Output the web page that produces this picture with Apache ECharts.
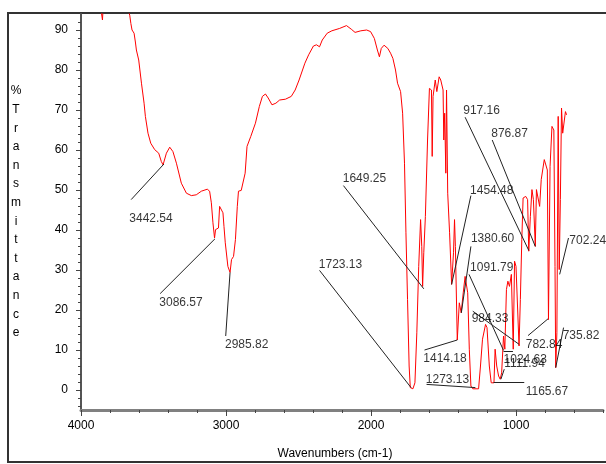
<!DOCTYPE html>
<html>
<head>
<meta charset="utf-8">
<script src="https://cdn.jsdelivr.net/npm/echarts@6/dist/echarts.min.js"></script>
<style>
html,body{margin:0;padding:0;background:#fff;}
#chart{width:606px;height:464px;}
</style>
</head>
<body>
<div id="chart"></div>
<script>
// spectrum [wavenumber, %T]
var spectrum = [
	[3870,97],[3852,92.5],[3845,97],[3700,98],[3664,93.7],[3656,91.6],[3648,90],[3634,89.2],[3625,87],[3618,85],
	[3602,82.5],[3583,76.7],[3565,71.7],[3556,68.4],[3538,64.2],[3519,61.7],[3492,60.1],[3464,59.2],[3446,57.1],[3434,56.3],
	[3411,59.2],[3388,60.7],[3366,59.6],[3342,56.7],[3308,51.7],[3273,49.2],[3239,48.6],[3205,48.8],[3170,49.7],[3129,50.2],
	[3113,49.7],[3101,46.8],[3090,41.8],[3079,38],[3072,40.1],[3060,40.5],[3052,40.5],[3044,45.9],[3032,46.3],[3021,44.3],
	[3014,40.9],[3005,36.8],[2987,30.9],[2972,29.4],[2962,32.6],[2948,33.4],[2935,37.6],[2922,45.9],[2914,49.7],[2895,49.9],
	[2882,49.4],[2868,54.2],[2855,60.9],[2829,63.4],[2797,66.7],[2770,70.9],[2749,73.4],[2728,74],[2709,73],[2683,71.3],
	[2656,71.7],[2630,72.5],[2590,72.7],[2550,73.4],[2523,75],[2496,77.5],[2456,81.7],[2430,83.8],[2397,86],[2376,86.3],
	[2355,85.8],[2336,87.5],[2302,89.2],[2270,89.8],[2216,90.4],[2169,91.1],[2136,90.2],[2110,89.4],[2070,89.8],[2030,90],
	[2003,89.6],[1977,87.9],[1956,85],[1942,83.3],[1929,85.4],[1910,86.2],[1884,85.4],[1865,84.2],[1849,82.9],[1831,80],
	[1817,76.7],[1796,74.6],[1782,69.2],[1769,56.7],[1759,39.3],[1748,22.6],[1737,6],[1729,0.6],[1711,0.3],[1697,1.8],
	[1684,14.3],[1671,30.9],[1658,42.6],[1650,35.9],[1644,25.9],[1636,34.3],[1625,43.4],[1610,62.5],[1597,75.4],[1583,75],
	[1578,58.4],[1572,73.4],[1557,77.5],[1546,74.6],[1530,78.3],[1519,77.5],[1503,75],[1498,62.5],[1492,69.2],[1484,54.2],
	[1479,75],[1471,49.2],[1458,39.3],[1444,26.4],[1431,34.3],[1424,42.6],[1418,35.9],[1405,12.5],[1391,21.8],[1378,19.3],
	[1364,24.3],[1351,28.4],[1338,28.9],[1333,24.3],[1322,10.2],[1311,1.0],[1298,0.3],[1258,0.3],[1245,6],[1231,12.7],
	[1210,16.4],[1200,15.6],[1184,6],[1171,1.8],[1152,1.8],[1144,10.2],[1133,6],[1120,3.5],[1109,2.7],[1099,4.3],
	[1086,13.5],[1077,10.2],[1066,25.1],[1056,27.2],[1045,25.9],[1032,28.9],[1019,10.2],[1010,32.2],[1000,30.9],[979,11],
	[970,22.6],[960,37.6],[951,48],[933,48.4],[920,47.6],[912,34.7],[901,43.4],[890,50.1],[880,47.6],[867,35.9],
	[859,50.1],[848,50.5],[837,45.9],[826,52.6],[816,55],[805,57.6],[792,58],[784,55],[776,17.6],[765,55.9],
	[752,65.9],[739,65],[731,30.9],[726,5.6],[718,14.3],[709,68.4],[702,30.1],[694,47.6],[686,70.5],[678,64.2],
	[667,64.2],[659,69.6],[651,68.8]
];
// peak labels
var peakNames = ['3442.54','3086.57','2985.82','1723.13','1649.25','1454.48','1380.60','1414.18','1273.13','1165.67',
	'1091.79','984.33','1024.63','1111.94','782.84','735.82','702.24','917.16','876.87'];
var labelPos = [[3667,42.8],[3460,21.9],[3007,11.3],[2360,31.4],[2195,52.8],[1317,49.9],[1311,37.8],[1639,7.8],[1622,2.7],[933,-0.3],
	[1317,30.7],[1306,17.9],[1086,7.6],[1081,6.5],[933,11.3],[678,13.7],[632,37.4],[1364,69.9],[1171,64]];
// leader line start / end
var leaderFrom = [[3428,56.5],[3076,37.8],[2972,29.4],[1724,0.6],[1636,25.3],[1444,26.4],[1377,19.3],[1405,12.5],[1280,0.6],[1155,1.85],
	[1324,28.9],[1298,19.7],[1086,9.7],[1104,2.7],[917,13.6],[672,15.6],[638,38],[1351,68.2],[1164,62.5]];
var leaderTo = [[3654,47.6],[3454,24.1],[3002,13.5],[2355,29.9],[2190,51.1],[1311,48.6],[1311,35.9],[1631,10.0],[1617,1.4],[943,1.85],
	[1086,9.9],[978,11.4],[1021,9.7],[1081,5.2],[779,17.8],[726,5.6],[699,28.9],[912,34.9],[867,35.9]];

var yLabelVals = [0,10,20,30,40,50,60,70,80,90];
var yMinorVals = [];
for(var v=-4;v<=92;v+=2) yMinorVals.push(v);
var xLabelVals = [4000,3000,2000,1000];

var font = 'Liberation Sans, Arial, sans-serif';
var leaders = [], labels = [];
for(var i=0;i<peakNames.length;i++){
	leaders.push({coords:[leaderFrom[i],leaderTo[i]]});
	labels.push({name:peakNames[i],value:labelPos[i]});
}

var myChart = echarts.init(document.getElementById('chart'));
var option = {
	backgroundColor:'#fff',
	animation:false,
	grid:{left:81,right:2,top:14,bottom:54},
	xAxis:[{
		type:'value',min:400,max:4000,inverse:true,interval:200,
		axisLine:{onZero:false,lineStyle:{color:'#808080',width:3}},
		axisTick:{length:3,lineStyle:{color:'#444'}},
		axisLabel:{margin:10,color:'#000',fontSize:12,fontFamily:font,
			formatter:function(v){return v%1000===0 && v>400 ? v : '';}},
		splitLine:{show:false}
	},{
		type:'value',min:400,max:4000,inverse:true,position:'bottom',
		axisLine:{show:false,onZero:false},
		axisTick:{length:6,customValues:xLabelVals,lineStyle:{color:'#444'}},
		axisLabel:{show:false},
		splitLine:{show:false}
	}],
	yAxis:[{
		type:'value',min:-5,max:94,
		axisLine:{show:true,onZero:false,lineStyle:{color:'#555',width:2}},
		axisTick:{show:true,length:5,customValues:yLabelVals,lineStyle:{color:'#444'}},
		axisLabel:{margin:13,color:'#000',fontSize:12,fontFamily:font,customValues:yLabelVals},
		splitLine:{show:false}
	},{
		type:'value',min:-5,max:94,position:'left',
		axisLine:{show:false,onZero:false},
		axisTick:{show:true,length:3,customValues:yMinorVals,lineStyle:{color:'#444'}},
		axisLabel:{show:false},
		splitLine:{show:false}
	}],
	graphic:[{
		type:'rect',shape:{x:8,y:13,width:640,height:449},
		style:{fill:'none',stroke:'#333',lineWidth:2},z:-1
	},{
		type:'text',x:335,y:454,
		style:{text:'Wavenumbers (cm-1)',textAlign:'center',textVerticalAlign:'middle',fill:'#000',font:'12px '+font}
	},{
		type:'text',x:16,y:81.7,
		style:{text:'%Transmittance'.split('').join('\n'),textAlign:'center',textVerticalAlign:'top',lineHeight:18.6,fill:'#000',font:'12px '+font}
	}],
	series:[{
		type:'line',data:spectrum,showSymbol:false,clip:true,
		lineStyle:{color:'#ff0000',width:1},z:3
	},{
		type:'lines',coordinateSystem:'cartesian2d',data:leaders,
		lineStyle:{color:'#222',width:1,opacity:1},silent:true,z:4
	},{
		type:'scatter',data:labels,symbolSize:0,silent:true,z:5,
		label:{show:true,position:'right',distance:0,formatter:'{b}',color:'#000',fontSize:12,fontFamily:font}
	}]
};
myChart.setOption(option);
</script>
</body>
</html>
